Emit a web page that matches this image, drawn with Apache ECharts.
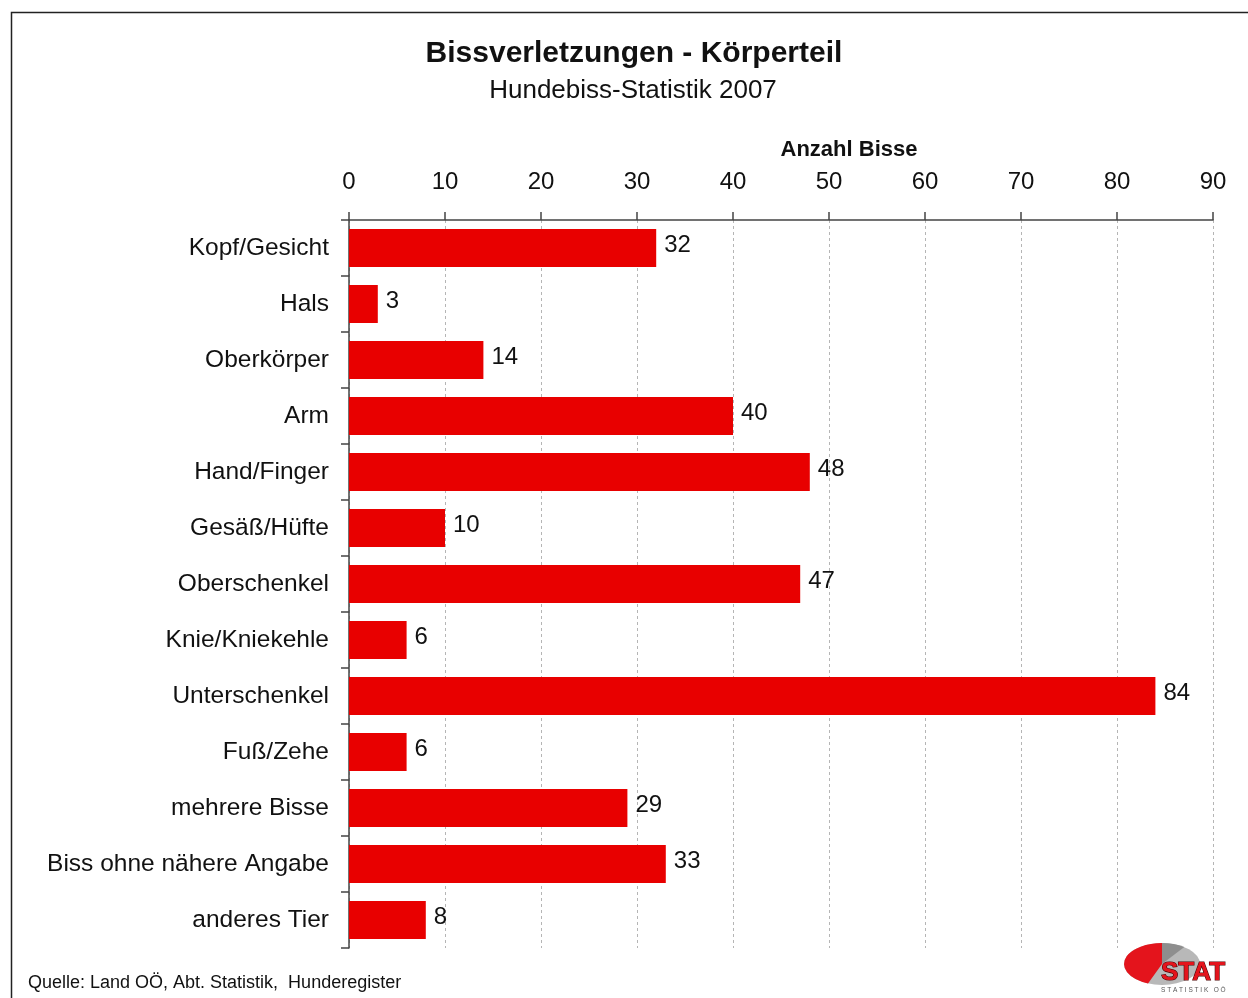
<!DOCTYPE html>
<html>
<head>
<meta charset="utf-8">
<script src="https://cdn.jsdelivr.net/npm/echarts@6/dist/echarts.min.js"></script>
<style>
  html, body { margin: 0; padding: 0; background: #fff; }
  #chart { width: 1248px; height: 998px; }
</style>
</head>
<body>
<div id="chart"></div>
<script>
// Hundebiss-Statistik 2007, Bissverletzungen nach Körperteil
const categories = [
  'Kopf/Gesicht', 'Hals', 'Oberkörper', 'Arm', 'Hand/Finger', 'Gesäß/Hüfte',
  'Oberschenkel', 'Knie/Kniekehle', 'Unterschenkel', 'Fuß/Zehe',
  'mehrere Bisse', 'Biss ohne nähere Angabe', 'anderes Tier'
]
const bisse = [32, 3, 14, 40, 48, 10, 47, 6, 84, 6, 29, 33, 8]

const font = 'Liberation Sans, Arial, sans-serif'
const chart = echarts.init(document.getElementById('chart'))

chart.setOption({
  backgroundColor: '#fff',
  animation: false,
  title: [{
    text: 'Bissverletzungen - Körperteil',
    left: 629,
    top: 34,
    textAlign: 'center',
    textStyle: { fontFamily: font, fontSize: 30, fontWeight: 'bold', color: '#111' }
  }, {
    text: 'Hundebiss-Statistik 2007',
    left: 628,
    top: 73,
    textAlign: 'center',
    textStyle: { fontFamily: font, fontSize: 26, fontWeight: 'normal', color: '#111' }
  }, {
    text: 'Anzahl Bisse',
    left: 844,
    top: 134,
    textAlign: 'center',
    textStyle: { fontFamily: font, fontSize: 22, fontWeight: 'bold', color: '#111' }
  }, {
    text: 'Quelle: Land OÖ, Abt. Statistik,  Hunderegister',
    left: 23,
    top: 969,
    textStyle: { fontFamily: font, fontSize: 18, fontWeight: 'normal', color: '#111' }
  }],
  grid: {
    left: 349,
    top: 220,
    width: 864,
    height: 728,
    containLabel: false
  },
  xAxis: {
    type: 'value',
    position: 'top',
    min: 0,
    max: 90,
    interval: 10,
    axisLine: { show: true, lineStyle: { color: '#444', width: 1.5 } },
    axisTick: { show: true, inside: false, length: 8, lineStyle: { color: '#444', width: 1.5 } },
    axisLabel: { fontFamily: font, fontSize: 24, color: '#111', margin: 26 },
    splitLine: { show: true, lineStyle: { color: '#b5b5b5', type: [3, 3], width: 1 } }
  },
  yAxis: {
    type: 'category',
    inverse: true,
    data: categories,
    axisLine: { show: true, lineStyle: { color: '#444', width: 1.5 } },
    axisTick: { show: true, length: 8, lineStyle: { color: '#444', width: 1.5 } },
    axisLabel: { fontFamily: font, fontSize: 24.5, color: '#111', margin: 20 }
  },
  series: [{
    type: 'bar',
    data: bisse,
    barCategoryGap: '32%',
    itemStyle: { color: '#e80000' },
    label: {
      show: true,
      position: 'right',
      distance: 8,
      offset: [0, -3],
      fontFamily: font,
      fontSize: 24,
      color: '#111'
    }
  }],
  graphic: [{
    // frame of the chart
    type: 'polyline',
    shape: { points: [[11.5, 1100], [11.5, 12.5], [1300, 12.5]] },
    style: { stroke: '#222', lineWidth: 1.5, fill: null }
  }, {
    // STAT logo
    type: 'group',
    x: 1124,
    y: 943,
    children: [{
      type: 'circle',
      x: 38, y: 21, scaleY: 0.55,
      shape: { cx: 0, cy: 0, r: 38 },
      style: { fill: '#b8b8b8' }
    }, {
      type: 'sector',
      x: 38, y: 21, scaleY: 0.55,
      shape: { cx: 0, cy: 0, r: 38, startAngle: -Math.PI * 0.5, endAngle: -Math.PI * 0.3 },
      style: { fill: '#8e8e8e' }
    }, {
      type: 'sector',
      x: 38, y: 21, scaleY: 0.55,
      shape: { cx: 0, cy: 0, r: 38, startAngle: Math.PI * 0.62, endAngle: Math.PI * 1.5 },
      style: { fill: '#e4141c' }
    }, {
      type: 'text',
      x: 37, y: 17,
      style: {
        text: 'STAT', fontFamily: font, fontSize: 26, fontWeight: 'bold',
        fill: '#e4141c', stroke: '#4a0000', lineWidth: 1.2
      }
    }, {
      type: 'text',
      x: 37, y: 44,
      style: { text: 'S T A T I S T I K   O Ö', fontFamily: font, fontSize: 6.5, fill: '#555' }
    }]
  }]
})
</script>
</body>
</html>
